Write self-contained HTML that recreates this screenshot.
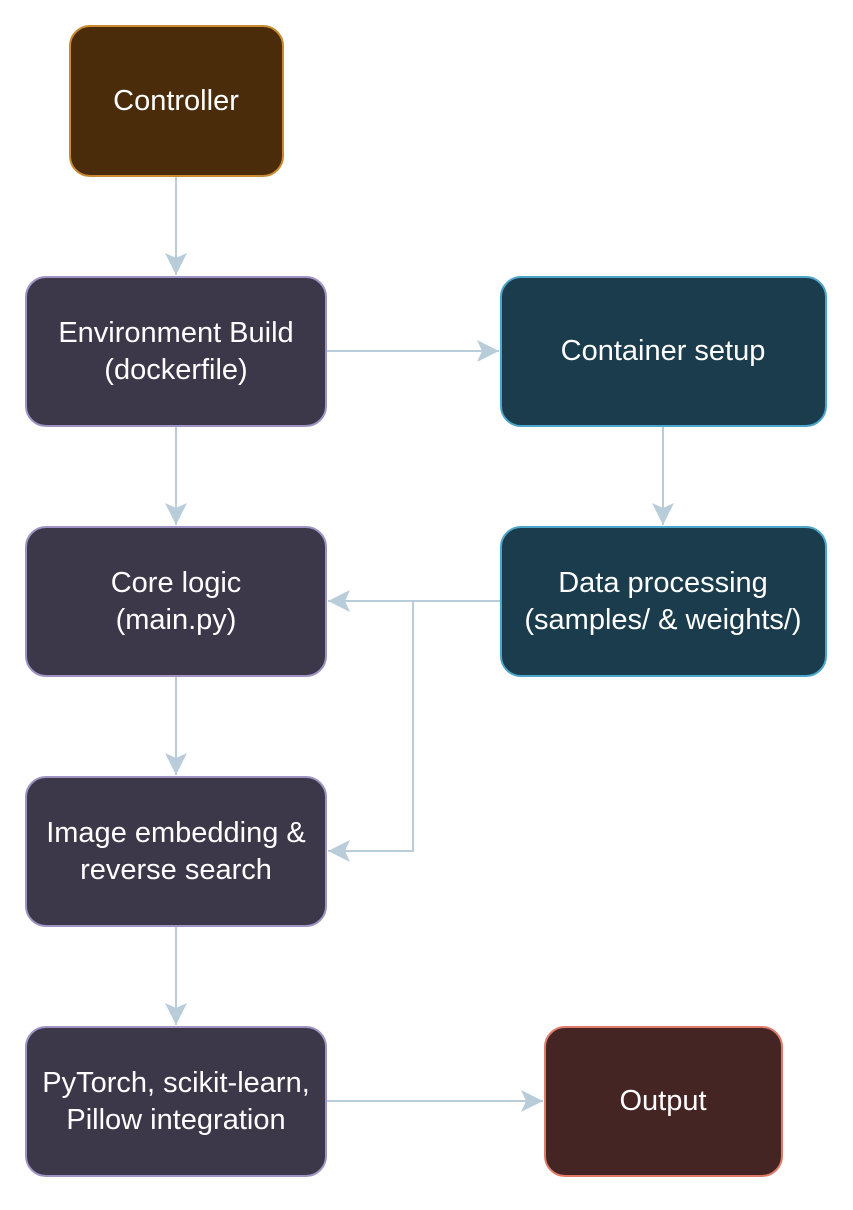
<!DOCTYPE html>
<html><head><style>
body{margin:0;background:#fff;width:853px;height:1205px;overflow:hidden;font-family:"Liberation Sans",Arial,sans-serif}
</style></head><body>
<svg width="853" height="1205" xmlns="http://www.w3.org/2000/svg">
<defs>
<marker id="a" viewBox="0 0 22 22" refX="22" refY="11" markerWidth="22" markerHeight="22" markerUnits="userSpaceOnUse" orient="auto">
<path d="M22,11 L0,0 L5,11 L0,22 Z" fill="#b8ccd9"/>
</marker>
</defs>
<g stroke="#b8ccd9" stroke-width="2" fill="none" marker-end="url(#a)">
<path d="M176,177 V275"/>
<path d="M327,351 H499"/>
<path d="M663,427 V525"/>
<path d="M176,427 V525"/>
<path d="M500,601 H328"/>
<path d="M413,601 V851 H328"/>
<path d="M176,677 V775"/>
<path d="M176,927 V1025"/>
<path d="M327,1101 H543"/>
</g>
<g stroke-width="2">
<rect x="70" y="26" width="213" height="150" rx="20" fill="#4a2c0a" stroke="#c98a32"/>
<rect x="26" y="277" width="300" height="149" rx="20" fill="#3c3749" stroke="#9f93c4"/>
<rect x="501" y="277" width="325" height="149" rx="20" fill="#1a3c4c" stroke="#4da6c9"/>
<rect x="26" y="527" width="300" height="149" rx="20" fill="#3c3749" stroke="#9f93c4"/>
<rect x="501" y="527" width="325" height="149" rx="20" fill="#1a3c4c" stroke="#4da6c9"/>
<rect x="26" y="777" width="300" height="149" rx="20" fill="#3c3749" stroke="#9f93c4"/>
<rect x="26" y="1027" width="300" height="149" rx="20" fill="#3c3749" stroke="#9f93c4"/>
<rect x="545" y="1027" width="237" height="149" rx="20" fill="#442524" stroke="#e07b6c"/>
</g>
<g fill="#fff" font-size="29" text-anchor="middle" font-family="Liberation Sans, Arial, sans-serif">
<text x="176" y="110">Controller</text>
<text x="176" y="342">Environment Build</text>
<text x="176" y="379">(dockerfile)</text>
<text x="663" y="360">Container setup</text>
<text x="176" y="592">Core logic</text>
<text x="176" y="629">(main.py)</text>
<text x="663" y="592">Data processing</text>
<text x="663" y="629">(samples/ &amp; weights/)</text>
<text x="176" y="842">Image embedding &amp;</text>
<text x="176" y="879">reverse search</text>
<text x="176" y="1092">PyTorch, scikit-learn,</text>
<text x="176" y="1129">Pillow integration</text>
<text x="663" y="1110">Output</text>
</g>
</svg>
</body></html>
